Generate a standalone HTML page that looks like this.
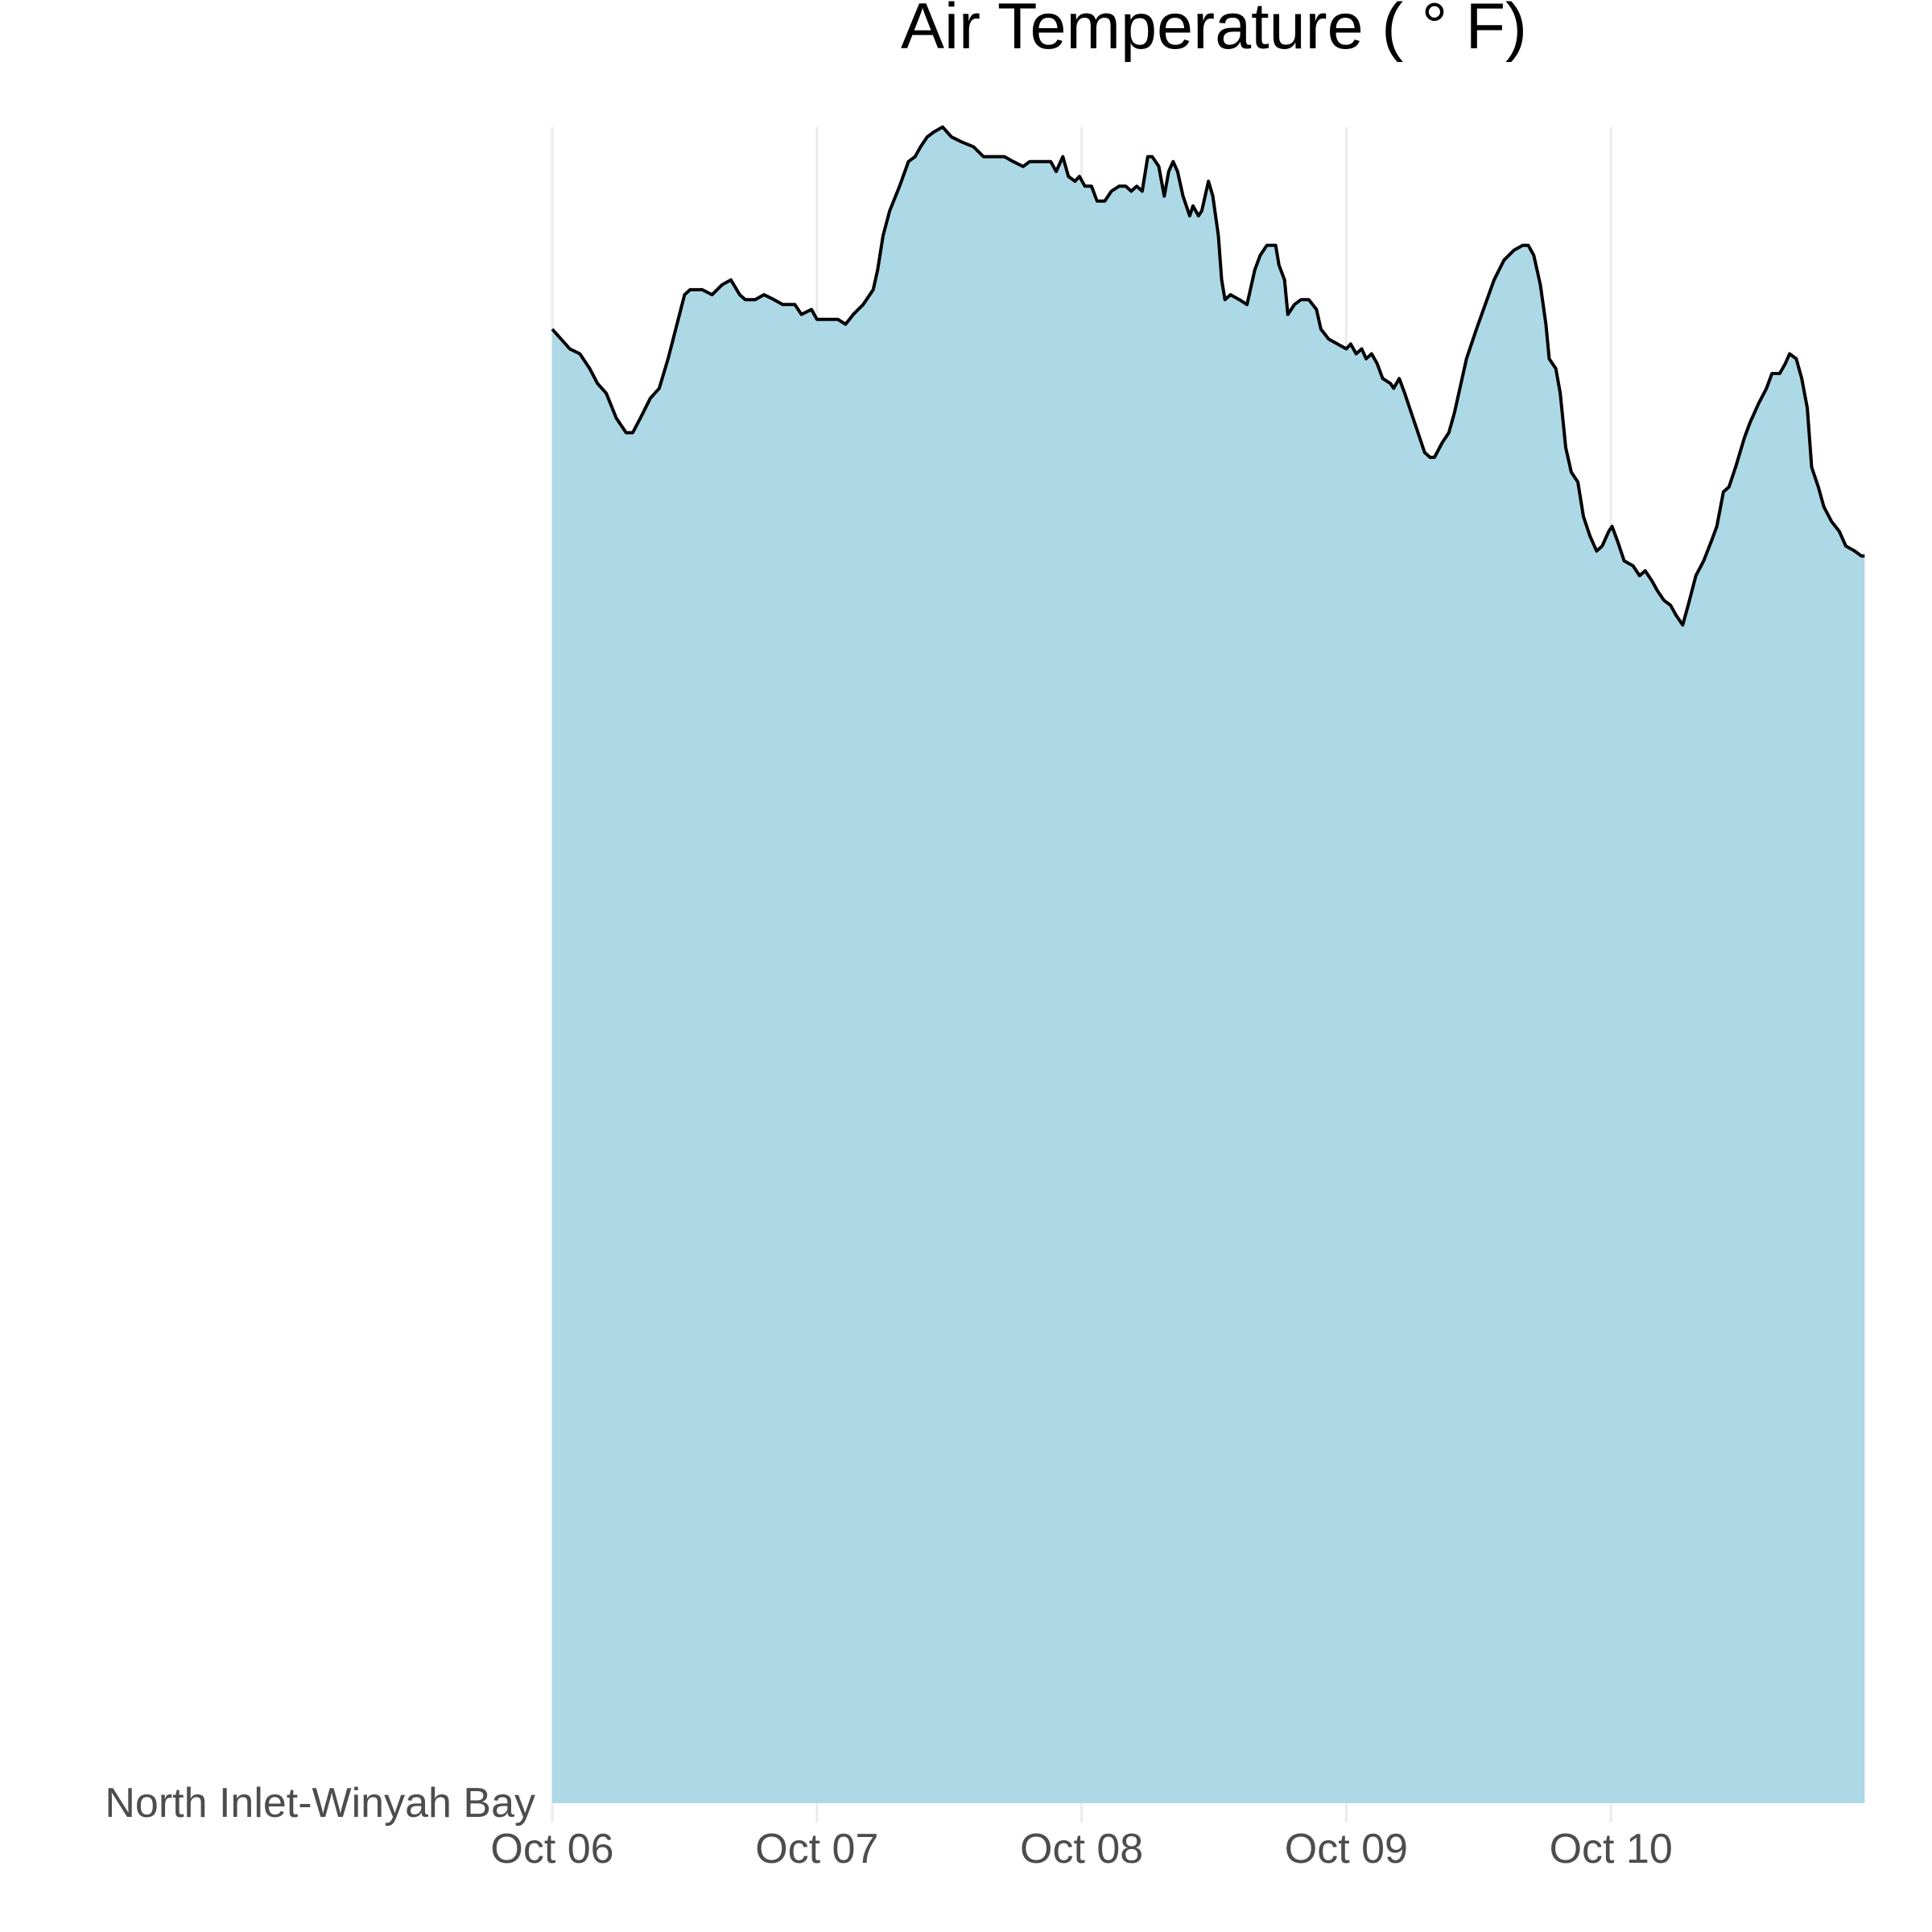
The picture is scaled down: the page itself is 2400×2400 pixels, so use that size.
<!DOCTYPE html>
<html><head><meta charset="utf-8"><style>
html,body{margin:0;padding:0;background:#fff;}
svg{display:block;}
</style></head><body>
<svg id="chart" width="2400" height="2400" viewBox="0 0 2400 2400" xmlns="http://www.w3.org/2000/svg">
<text x="1508" y="60" text-anchor="middle" font-family="Liberation Sans, sans-serif" font-size="81" fill="#000">Air Temperature ( ° F)</text>
<g id="grid"></g>
<g id="series"></g>
<g id="xticks"></g>
<text x="665" y="2257" text-anchor="end" font-family="Liberation Sans, sans-serif" font-size="52" fill="#4d4d4d">North Inlet-Winyah Bay</text>
</svg>
<script>
const hours = [0,0.8,1.6,2.5,3.4,4.1,4.9,5.8,6.7,7.3,8.0,8.9,9.7,10.5,11.2,12.0,12.5,13.6,14.5,15.4,16.2,17.0,17.5,18.4,19.2,20.1,20.9,22.0,22.6,23.5,24.0,24.8,25.9,26.6,27.3,28.2,29.1,29.5,30.0,30.6,31.5,32.3,32.9,33.4,34.0,34.6,35.4,36.2,37.1,38.2,39.1,40.2,41.0,41.8,42.7,43.3,44.4,45.2,45.7,46.3,46.8,47.4,47.8,48.3,48.9,49.4,50.1,50.7,51.4,52.0,52.5,53.0,53.5,54.0,54.4,55.0,55.5,55.9,56.3,56.7,57.2,57.8,58.1,58.6,58.9,59.5,59.9,60.4,60.7,61.0,61.5,62.3,63.0,63.7,64.2,64.8,65.6,65.9,66.4,66.7,67.3,67.9,68.6,69.3,69.7,70.4,71.2,72.0,72.4,72.9,73.4,73.8,74.3,74.8,75.3,76.0,76.3,76.8,77.3,77.9,78.5,79.1,79.6,80.0,80.7,81.3,81.8,82.4,82.9,83.8,84.6,85.4,86.3,87.2,88.0,88.5,89.0,89.6,90.1,90.4,91.0,91.4,91.9,92.4,93.0,93.5,94.1,94.7,95.2,95.8,96.1,96.6,97.2,98.0,98.6,99.1,99.7,100.2,100.8,101.4,101.9,102.5,103.0,103.7,104.4,105.1,105.6,106.2,106.7,107.3,108.1,108.6,109.4,110.1,110.6,111.3,111.8,112.2,112.8,113.3,113.8,114.2,114.8,115.3,116.0,116.7,117.3,118.1,118.7,119.0];
const temps = [69.9,69.7,69.5,69.4,69.1,68.8,68.6,68.1,67.8,67.8,68.1,68.5,68.7,69.3,69.9,70.6,70.7,70.7,70.6,70.8,70.9,70.6,70.5,70.5,70.6,70.5,70.4,70.4,70.2,70.3,70.1,70.1,70.1,70.0,70.2,70.4,70.7,71.1,71.8,72.3,72.8,73.3,73.4,73.6,73.8,73.9,74.0,73.8,73.7,73.6,73.4,73.4,73.4,73.3,73.2,73.3,73.3,73.3,73.1,73.4,73.0,72.9,73.0,72.8,72.8,72.5,72.5,72.7,72.8,72.8,72.7,72.8,72.7,73.4,73.4,73.2,72.6,73.1,73.3,73.1,72.6,72.2,72.4,72.2,72.3,72.9,72.6,71.8,70.9,70.5,70.6,70.5,70.4,71.1,71.4,71.6,71.6,71.2,70.9,70.2,70.4,70.5,70.5,70.3,69.9,69.7,69.6,69.5,69.6,69.4,69.5,69.3,69.4,69.2,68.9,68.8,68.7,68.9,68.6,68.2,67.8,67.4,67.3,67.3,67.6,67.8,68.2,68.8,69.3,69.9,70.4,70.9,71.3,71.5,71.6,71.6,71.4,70.8,70.0,69.3,69.1,68.6,67.5,67.0,66.8,66.1,65.7,65.4,65.5,65.8,65.9,65.6,65.2,65.1,64.9,65.0,64.8,64.6,64.4,64.3,64.1,63.9,64.3,64.9,65.2,65.6,65.9,66.6,66.7,67.1,67.7,68.0,68.4,68.7,69.0,69.0,69.2,69.4,69.3,68.9,68.3,67.1,66.7,66.3,66.0,65.8,65.5,65.4,65.3,65.3];
const tickDays = [0,1,2,3,4];
const tickLabels = ["Oct 06","Oct 07","Oct 08","Oct 09","Oct 10"];

const NS = "http://www.w3.org/2000/svg";
const X0 = 686, DAYPX = 328.8, YBASE = 2240, TBASE = 40, PXPERDEG = 61.24;
function xScale(h){ return X0 + h/24*DAYPX; }
function yScale(t){ return YBASE - (t - TBASE)*PXPERDEG; }

const grid = document.getElementById('grid');
const xt = document.getElementById('xticks');
tickDays.forEach((d,i)=>{
  const x = xScale(d*24);
  const l = document.createElementNS(NS,'line');
  l.setAttribute('x1',x); l.setAttribute('x2',x);
  l.setAttribute('y1',158); l.setAttribute('y2',2264);
  l.setAttribute('stroke','#ebebeb'); l.setAttribute('stroke-width','3');
  
  
  grid.appendChild(l);
  const t = document.createElementNS(NS,'text');
  t.setAttribute('x',x); t.setAttribute('y',2314);
  t.setAttribute('text-anchor','middle');
  t.setAttribute('font-family','Liberation Sans, sans-serif');
  t.setAttribute('font-size','52'); t.setAttribute('fill','#4d4d4d');
  t.textContent = tickLabels[i];
  
  
  xt.appendChild(t);
});

const series = document.getElementById('series');
let line = '';
hours.forEach((h,i)=>{ line += (i?'L':'M') + xScale(h).toFixed(1) + ',' + yScale(temps[i]).toFixed(1); });
const area = document.createElementNS(NS,'path');
area.setAttribute('d', line + 'L' + xScale(hours[hours.length-1]).toFixed(1) + ',' + YBASE + 'L' + xScale(hours[0]).toFixed(1) + ',' + YBASE + 'Z');
area.setAttribute('fill','#add8e6');


series.appendChild(area);
const ln = document.createElementNS(NS,'path');
ln.setAttribute('d', line);
ln.setAttribute('fill','none'); ln.setAttribute('stroke','#000'); ln.setAttribute('stroke-width','4');
ln.setAttribute('stroke-linejoin','round');


series.appendChild(ln);
</script>
</body></html>
